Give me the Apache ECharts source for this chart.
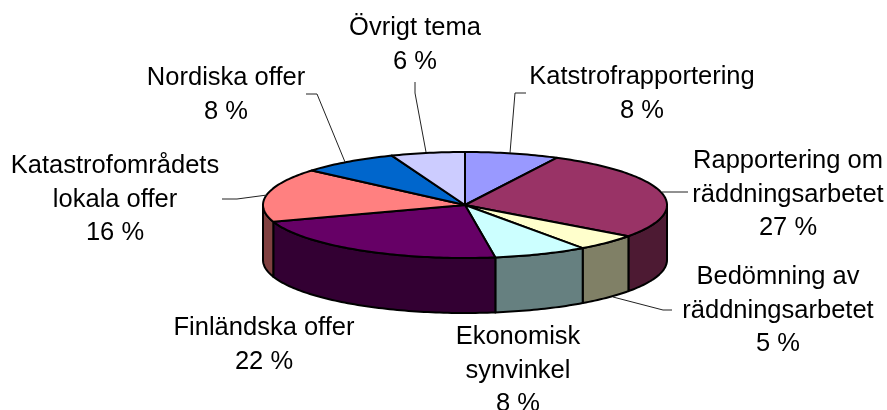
<!DOCTYPE html>
<html><head><meta charset="utf-8">
<style>html,body{margin:0;padding:0;background:#fff}#c{width:887px;height:410px}</style>
<script src="https://cdn.jsdelivr.net/npm/echarts@6/dist/echarts.min.js"></script>
</head><body><div id="c"></div>
<script>
// Data
const categories = ['Katstrofrapportering','Rapportering om räddningsarbetet','Bedömning av räddningsarbetet','Ekonomisk synvinkel','Finländska offer','Katastrofområdets lokala offer','Nordiska offer','Övrigt tema'];
const shares = [7.5,27.5,5.1,7.5,22.3,16.4,7.8,5.9];
const percentLabels = ['8 %','27 %','5 %','8 %','22 %','16 %','8 %','6 %'];
// Wrapped label lines
const labelLines = [['Katstrofrapportering'],['Rapportering om','räddningsarbetet'],['Bedömning av','räddningsarbetet'],['Ekonomisk','synvinkel'],['Finländska offer'],['Katastrofområdets','lokala offer'],['Nordiska offer'],['Övrigt tema']];
// Styles
const topColors = ['#9999FF','#993366','#FFFFCC','#CCFFFF','#660066','#FF8080','#0066CC','#CCCCFF'];
const sideColors = ['#4D4D80','#4D1A33','#808066','#668080','#330033','#804040','#003366','#666680'];
// Layout
const pie = {cx:465,cy:205,rx:202,ry:53,depth:55};
const labelAnchors = [[642,77],[788,161],[778,277],[518,337],[264,328],[115,166],[226,78],[415,28]];
const leaders = [
  [[526,93],[515,93],[510,153]],
  [[662,192],[688,192]],
  [[672,310],[663,310],[613,297]],
  null,null,
  [[222,199],[237,199],[267,195]],
  [[306,94],[317,94],[345,162]],
  [[415,82],[415,93],[426,152]]
];
const font = '25.5px "Liberation Sans", Arial, sans-serif';
const lineH = 33.5;

const total = shares.reduce((a,b)=>a+b,0);
const starts = []; let acc = 0;
shares.forEach(v=>{starts.push(acc/total*2*Math.PI); acc+=v;});
const pt = (a,dy)=>[pie.cx+pie.rx*Math.sin(a), pie.cy-pie.ry*Math.cos(a)+(dy||0)];
function arc(a0,a1,dy){const n=Math.max(2,Math.ceil((a1-a0)/0.02));const r=[];for(let i=0;i<=n;i++)r.push(pt(a0+(a1-a0)*i/n,dy));return r;}

const sideStyle = c=>({fill:c,stroke:'#000',lineWidth:2,lineJoin:'round'});
function renderPie(params,api){
  const i = api.value(0), v = api.value(1);
  const a0 = starts[i], a1 = a0+v/total*2*Math.PI;
  const children = [];
  // side wall: only the near half (90deg..270deg) is visible
  const s0 = Math.max(a0,Math.PI/2), s1 = Math.min(a1,Math.PI*1.5);
  if(s1>s0){
    const up = arc(s0,s1,0), down = arc(s0,s1,pie.depth).reverse();
    children.push({type:'polygon',shape:{points:up.concat(down)},style:sideStyle(sideColors[i])});
  }
  children.push({type:'polygon',shape:{points:[[pie.cx,pie.cy]].concat(arc(a0,a1,0))},style:sideStyle(topColors[i])});
  if(leaders[i]) children.push({type:'polyline',shape:{points:leaders[i]},style:{fill:null,stroke:'#222',lineWidth:1}});
  const lines = labelLines[i].concat([percentLabels[i]]);
  lines.forEach((t,k)=>children.push({type:'text',style:{text:t,x:labelAnchors[i][0],y:labelAnchors[i][1]+k*lineH,align:'center',verticalAlign:'middle',font:font,fill:'#000'}}));
  return {type:'group',children};
}
const chart = echarts.init(document.getElementById('c'),null,{renderer:'canvas'});
chart.setOption({
  animation:false,
  backgroundColor:'#fff',
  series:[{type:'custom',coordinateSystem:'none',renderItem:renderPie,
    data:shares.map((v,i)=>[i,v,categories[i]]),
    encode:{tooltip:[1],itemName:2},silent:true,clip:false}]
});
</script></body></html>
